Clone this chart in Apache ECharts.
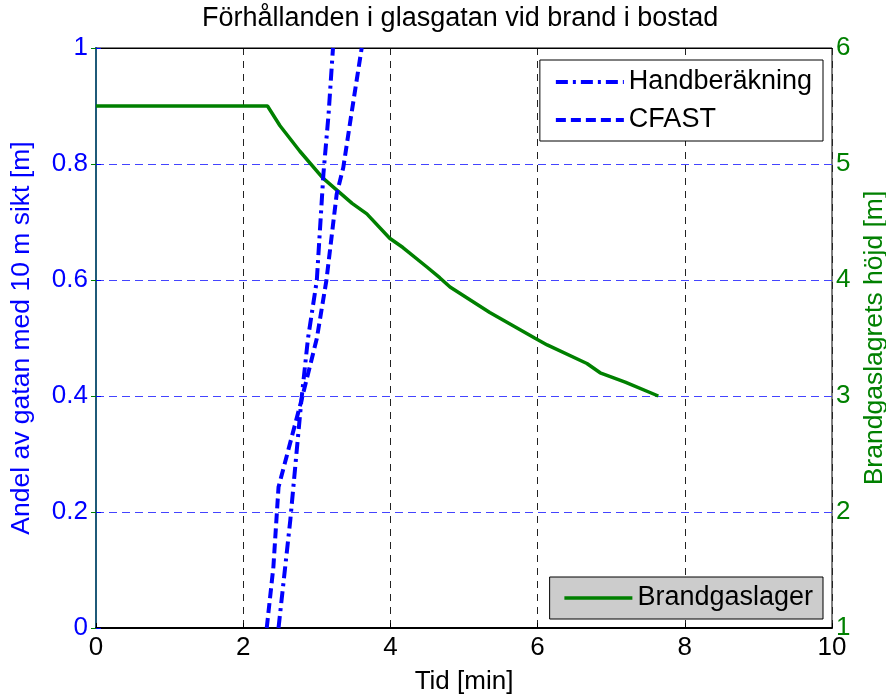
<!DOCTYPE html>
<html>
<head>
<meta charset="utf-8">
<script src="https://cdn.jsdelivr.net/npm/echarts@6/dist/echarts.min.js"></script>
<style>
  html, body { margin: 0; padding: 0; background: #fff; }
  #main { width: 886px; height: 698px; }
</style>
</head>
<body>
<div id="main"></div>
<script>
// Handberäkning (andel av gatan med 10 m sikt)
var handTid = [2.48, 2.64, 2.79, 2.88, 3.00, 3.09, 3.16, 3.22];
var handAndel = [0, 0.186, 0.392, 0.499, 0.599, 0.783, 0.886, 1.0];

// CFAST
var cfastTid = [2.32, 2.41, 2.48, 2.79, 3.00, 3.13, 3.27, 3.36, 3.47, 3.61];
var cfastAndel = [0, 0.105, 0.243, 0.392, 0.499, 0.599, 0.748, 0.794, 0.886, 1.0];

// Brandgaslager (höjd, höger axel)
var gasTid = [0, 2.33, 2.50, 2.77, 3.08, 3.48, 3.68, 3.99, 4.17, 4.50, 4.67, 4.81, 5.35, 5.96, 6.13, 6.67, 6.85, 7.19, 7.64];
var gasHojd = [5.5, 5.5, 5.33, 5.11, 4.88, 4.66, 4.57, 4.36, 4.28, 4.11, 4.02, 3.94, 3.72, 3.50, 3.44, 3.28, 3.20, 3.12, 3.00];

function pairs(xs, ys) {
    var out = [];
    for (var i = 0; i < xs.length; i++) {
        out.push([xs[i], ys[i]]);
    }
    return out;
}

var font = "'Liberation Sans', Arial, sans-serif";
var myChart = echarts.init(document.getElementById('main'));

var option = {
    animation: false,
    title: {
        text: 'Förhållanden i glasgatan vid brand i bostad',
        left: 202,
        top: 5,
        padding: 0,
        textStyle: { color: '#000', fontSize: 27, fontWeight: 'normal', fontFamily: font }
    },
    grid: {
        left: 96, right: 54, top: 48, bottom: 70,
        outerBoundsMode: 'none',
        containLabel: false,
        show: true, borderColor: '#000', borderWidth: 1
    },
    legend: [{
        data: ['Handberäkning', 'CFAST'],
        orient: 'vertical',
        right: 63,
        top: 60,
        backgroundColor: '#fff',
        borderColor: '#000',
        borderWidth: 1,
        padding: [7, 11, 6, 14],
        itemWidth: 68,
        itemHeight: 14,
        itemGap: 8,
        itemStyle: { opacity: 0 },
        lineStyle: { width: 4 },
        textStyle: { color: '#000', fontSize: 27, lineHeight: 30, fontFamily: font }
    }, {
        data: ['Brandgaslager'],
        orient: 'vertical',
        right: 63,
        bottom: 79,
        backgroundColor: '#cccccc',
        borderColor: '#000',
        borderWidth: 1,
        padding: [6, 10, 6, 13],
        itemWidth: 68,
        itemHeight: 14,
        itemStyle: { opacity: 0 },
        lineStyle: { width: 3.5 },
        textStyle: { color: '#000', fontSize: 27, lineHeight: 30, fontFamily: font }
    }],
    xAxis: [{
        type: 'value',
        min: 0, max: 10, interval: 2,
        name: 'Tid [min]',
        nameLocation: 'middle',
        nameGap: 41,
        nameTextStyle: { color: '#000', fontSize: 26, fontFamily: font },
        axisLine: { lineStyle: { color: '#000', width: 2 } },
        axisTick: { inside: true, length: 5, lineStyle: { color: '#000' } },
        axisLabel: { color: '#000', fontSize: 26, margin: 7, fontFamily: font },
        splitLine: { show: true, lineStyle: { color: '#222', type: [7, 6], width: 1 } }
    }, {
        // top frame line
        type: 'value',
        position: 'top',
        min: 0, max: 10, interval: 2,
        axisLine: { show: true, lineStyle: { color: '#000', width: 1 } },
        axisTick: { show: false },
        axisLabel: { show: false },
        splitLine: { show: false }
    }],
    yAxis: [{
        type: 'value',
        min: 0, max: 1, interval: 0.2,
        position: 'left',
        name: 'Andel av gatan med 10 m sikt [m]',
        nameLocation: 'middle',
        nameGap: 61,
        nameRotate: 90,
        nameTextStyle: { color: '#0000ff', fontSize: 26.5, fontFamily: font },
        axisLine: { show: true, lineStyle: { color: '#0000ff', width: 2 } },
        axisTick: { show: true, inside: true, length: 5, lineStyle: { color: '#0000ff' } },
        axisLabel: { color: '#0000ff', fontSize: 26, margin: 8, fontFamily: font },
        splitLine: { show: true, lineStyle: { color: '#4444ff', type: [8, 5], width: 1 } }
    }, {
        type: 'value',
        min: 1, max: 6, interval: 1,
        position: 'right',
        name: 'Brandgaslagrets höjd [m]',
        nameLocation: 'middle',
        nameGap: 27,
        nameRotate: 90,
        nameTextStyle: { color: '#008000', fontSize: 26.5, fontFamily: font },
        axisLine: { show: true, lineStyle: { color: '#1f5a78', width: 2 } },
        axisTick: { show: true, inside: true, length: 5, lineStyle: { color: '#008000' } },
        axisLabel: { color: '#008000', fontSize: 26, margin: 4, fontFamily: font },
        splitLine: { show: false }
    }],
    series: [{
        name: 'Handberäkning',
        type: 'line',
        yAxisIndex: 0,
        symbol: 'none',
        data: pairs(handTid, handAndel),
        lineStyle: { color: '#0000ff', width: 4, type: [12, 5, 3, 5] },
        itemStyle: { color: '#0000ff' },
        z: 3
    }, {
        name: 'CFAST',
        type: 'line',
        yAxisIndex: 0,
        symbol: 'none',
        data: pairs(cfastTid, cfastAndel),
        lineStyle: { color: '#0000ff', width: 4, type: [10, 5] },
        itemStyle: { color: '#0000ff' },
        z: 3
    }, {
        name: 'Brandgaslager',
        type: 'line',
        yAxisIndex: 1,
        symbol: 'none',
        data: pairs(gasTid, gasHojd),
        lineStyle: { color: '#008000', width: 3.5 },
        itemStyle: { color: '#008000' },
        z: 2
    }]
};

myChart.setOption(option);
</script>
</body>
</html>
